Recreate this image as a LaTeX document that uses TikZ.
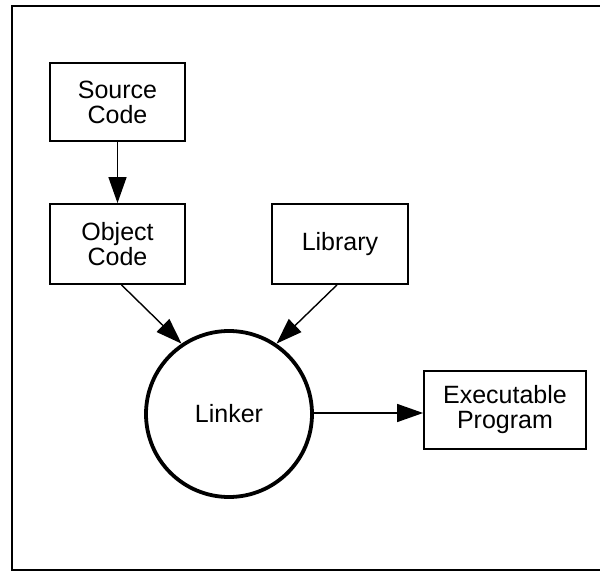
\documentclass[tikz,border=0pt]{standalone}
\usepackage{fontspec}
\setmainfont{Liberation Sans}
\usetikzlibrary{arrows.meta}

\begin{document}
\begin{tikzpicture}[x=1pt, y=-1pt, line join=miter,
    box/.style={draw, line width=1.8pt, inner sep=0pt, align=center,
      font=\fontsize{25}{25}\selectfont},
    fleche/.style={line width=1.4pt, -{Triangle[length=26pt, width=18pt]}}]

    % Cadre de la page
    \useasboundingbox (0,0) rectangle (600,572);
    \draw[line width=2.8pt] (604,6) -- (12,6) -- (12,570) -- (604,570);

    % Les boites
    \node[box, minimum width=135pt, minimum height=78pt] (src) at (117.5,102) {Source\\Code};
    \node[box, minimum width=135pt, minimum height=80pt] (obj) at (117.5,244) {Object\\Code};
    \node[box, minimum width=136pt, minimum height=80pt] (lib) at (340,244) {Library};
    \node[box, minimum width=162pt, minimum height=78pt] (exe) at (505,410) {Executable\\Program};

    % Le cercle
    \node[draw, circle, line width=3.8pt, minimum size=166pt, inner sep=0pt,
      font=\fontsize{25}{25}\selectfont] (linker) at (229,414) {Linker};

    % Les fleches
    \draw[fleche] (src) -- (obj);
    \draw[fleche] ([xshift=4pt]obj.south) -- (linker.124);
    \draw[fleche] ([xshift=-3pt]lib.south) -- (linker.56);
    \draw[fleche] ([yshift=1pt]linker.east) -- ([yshift=1pt]linker.east -| exe.west);

\end{tikzpicture}
\end{document}
